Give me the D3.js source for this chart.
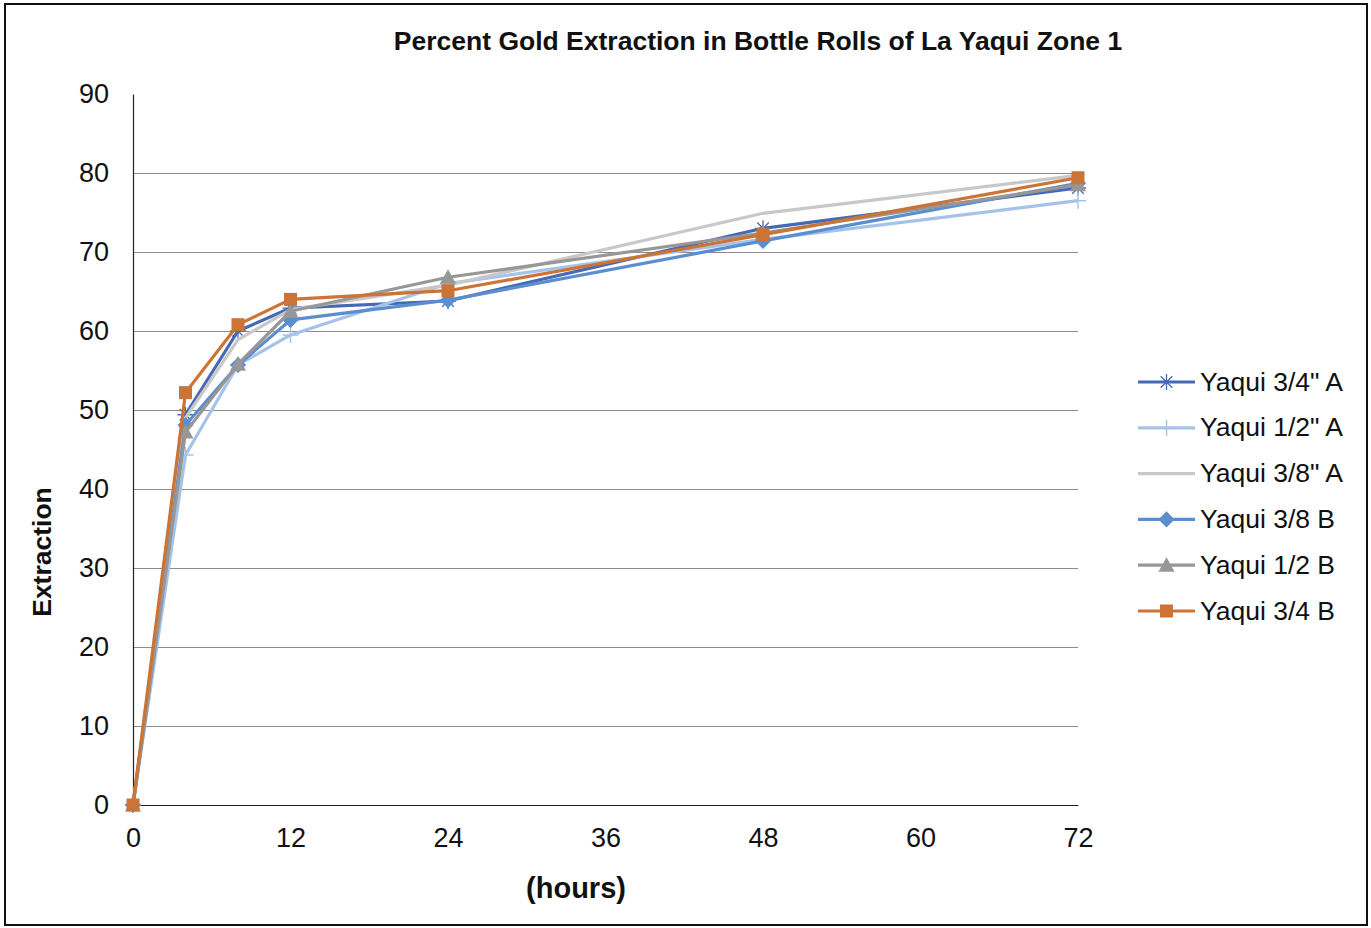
<!DOCTYPE html>
<html>
<head>
<meta charset="utf-8">
<script src="https://cdn.jsdelivr.net/npm/d3@7"></script>
<style>
  html, body { margin: 0; padding: 0; background: #fff; }
  svg { display: block; font-family: "Liberation Sans", Arial, sans-serif; }
</style>
</head>
<body>
<svg id="chart" width="1371" height="928"></svg>
<script>
// Sampling times (hours)
const hours = [0, 4, 8, 12, 24, 48, 72];

// Percent gold extraction per sample
const yaqui34A = [0, 49.4, 60.0, 62.9, 63.8, 73.0, 78.1];
const yaqui12A = [0, 44.3, 55.7, 59.5, 66.0, 71.6, 76.5];
const yaqui38A = [0, 49.0, 58.9, 62.7, 65.8, 74.9, 79.7];
const yaqui38B = [0, 48.1, 55.7, 61.4, 63.9, 71.4, 78.7];
const yaqui12B = [0, 47.2, 55.8, 62.5, 66.8, 72.4, 78.5];
const yaqui34B = [0, 52.2, 60.8, 64.0, 65.1, 72.2, 79.4];

const seriesNames = ['Yaqui 3/4" A', 'Yaqui 1/2" A', 'Yaqui 3/8" A', 'Yaqui 3/8 B', 'Yaqui 1/2 B', 'Yaqui 3/4 B'];
const seriesValues = [yaqui34A, yaqui12A, yaqui38A, yaqui38B, yaqui12B, yaqui34B];
const seriesColors = ['#4669b5', '#a5c3e9', '#c8c8c8', '#5b8ecf', '#979797', '#cc7435'];
const seriesMarkers = ['asterisk', 'plus', 'none', 'diamond', 'triangle', 'square'];

const xTicks = [0, 12, 24, 36, 48, 60, 72];
const yTicks = [0, 10, 20, 30, 40, 50, 60, 70, 80, 90];

const svg = d3.select('#chart');
const FONT = '"Liberation Sans", Arial, sans-serif';

// outer frame
svg.append('rect')
  .attr('x', 5).attr('y', 4).attr('width', 1362).attr('height', 921)
  .attr('fill', '#fff').attr('stroke', '#111').attr('stroke-width', 2);

const x = d3.scaleLinear().domain([0, 72]).range([133, 1078]);
const y = d3.scaleLinear().domain([0, 90]).range([805, 94]);

// horizontal gridlines
svg.append('g')
  .selectAll('line')
  .data(yTicks.filter(v => v > 0 && v < 90))
  .join('line')
  .attr('x1', x(0)).attr('x2', x(72))
  .attr('y1', d => Math.round(y(d)) + 0.5).attr('y2', d => Math.round(y(d)) + 0.5)
  .attr('stroke', '#8c8c8c').attr('stroke-width', 1.2);

// y axis
const yAxis = svg.append('g')
  .attr('transform', `translate(${x(0)},0)`)
  .call(d3.axisLeft(y).tickValues(yTicks).tickSize(0).tickPadding(24));
yAxis.select('.domain').attr('stroke', '#222').attr('stroke-width', 1.2);
yAxis.selectAll('text').attr('font-size', 27).attr('fill', '#111')
  .attr('font-family', FONT);

// x axis
const xAxis = svg.append('g')
  .attr('transform', `translate(0,${y(0)})`)
  .call(d3.axisBottom(x).tickValues(xTicks).tickSize(0).tickPadding(23));
xAxis.select('.domain').attr('stroke', '#222').attr('stroke-width', 1.2);
xAxis.selectAll('text').attr('font-size', 27).attr('fill', '#111')
  .attr('font-family', FONT);

// title
svg.append('text')
  .attr('x', 758).attr('y', 50)
  .attr('text-anchor', 'middle')
  .attr('font-size', 26.5).attr('font-weight', 'bold').attr('fill', '#111')
  .text('Percent Gold Extraction in Bottle Rolls of La Yaqui Zone 1');

// axis titles
svg.append('text')
  .attr('transform', 'translate(51,552) rotate(-90)')
  .attr('text-anchor', 'middle')
  .attr('font-size', 26.5).attr('font-weight', 'bold').attr('fill', '#111')
  .text('Extraction');

svg.append('text')
  .attr('x', 576).attr('y', 898)
  .attr('text-anchor', 'middle')
  .attr('font-size', 29).attr('font-weight', 'bold').attr('fill', '#111')
  .text('(hours)');

// marker drawing
function drawMarker(g, type, color, cx, cy, s) {
  if (type === 'square') {
    g.append('rect').attr('x', cx - s / 2).attr('y', cy - s / 2)
      .attr('width', s).attr('height', s).attr('fill', color);
  } else if (type === 'diamond') {
    const r = s * 0.62;
    g.append('path').attr('d', `M${cx},${cy - r}L${cx + r},${cy}L${cx},${cy + r}L${cx - r},${cy}Z`)
      .attr('fill', color);
  } else if (type === 'triangle') {
    const r = s * 0.62;
    g.append('path').attr('d', `M${cx},${cy - r}L${cx + r},${cy + r * 0.8}L${cx - r},${cy + r * 0.8}Z`)
      .attr('fill', color);
  } else if (type === 'plus') {
    const r = s * 0.62;
    g.append('path').attr('d', `M${cx - r},${cy}H${cx + r}M${cx},${cy - r}V${cy + r}`)
      .attr('stroke', color).attr('stroke-width', 1.5).attr('fill', 'none');
  } else if (type === 'asterisk') {
    const r = s * 0.62;
    let d = `M${cx - r},${cy}H${cx + r}M${cx},${cy - r}V${cy + r}`;
    const q = r * 0.72;
    d += `M${cx - q},${cy - q}L${cx + q},${cy + q}M${cx - q},${cy + q}L${cx + q},${cy - q}`;
    g.append('path').attr('d', d)
      .attr('stroke', color).attr('stroke-width', 1.3).attr('fill', 'none');
  }
}

const line = d3.line().x(d => x(d[0])).y(d => y(d[1]));
const plot = svg.append('g');

seriesValues.forEach((vals, i) => {
  const pts = hours.map((h, j) => [h, vals[j]]);
  const g = plot.append('g');
  g.append('path').datum(pts)
    .attr('d', line)
    .attr('fill', 'none')
    .attr('stroke', seriesColors[i])
    .attr('stroke-width', 3.2)
    .attr('stroke-linejoin', 'round');
  pts.forEach(p => drawMarker(g, seriesMarkers[i], seriesColors[i], x(p[0]), y(p[1]), 13));
});

// legend
const legend = svg.append('g');
seriesNames.forEach((name, i) => {
  const ly = 382 + i * 45.8;
  const g = legend.append('g');
  g.append('line').attr('x1', 1138).attr('x2', 1195).attr('y1', ly).attr('y2', ly)
    .attr('stroke', seriesColors[i]).attr('stroke-width', 3.2);
  drawMarker(g, seriesMarkers[i], seriesColors[i], 1166.5, ly, 13);
  g.append('text').attr('x', 1200).attr('y', ly + 8.5)
    .attr('font-size', 26.5).attr('fill', '#111')
    .text(name);
});
</script>
</body>
</html>
